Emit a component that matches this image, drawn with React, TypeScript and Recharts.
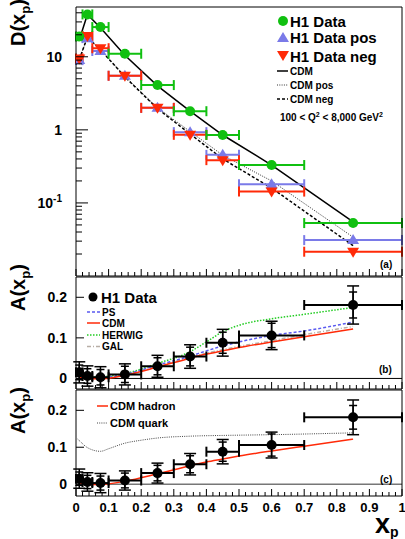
import React from "react";
import { ComposedChart, Scatter, Line, XAxis, YAxis, ErrorBar, ReferenceLine } from "recharts";

// bin centres and half-widths in x_p
const XP = [0.01, 0.035, 0.075, 0.15, 0.25, 0.35, 0.45, 0.6, 0.85];
const XERR = [0.01, 0.015, 0.025, 0.05, 0.05, 0.05, 0.05, 0.1, 0.15];

// panel (a): D(x_p)
const D_ALL = [19, 38, 25.5, 11, 4.1, 1.8, 0.85, 0.33, 0.053];
const D_POS = [9.0, 18, 12, 5.5, 2.0, 0.93, 0.455, 0.18, 0.031];
const D_NEG = [9.5, 19.3, 13.1, 5.5, 2.0, 0.855, 0.385, 0.143, 0.0215];

const CDM_X = [0.01, 0.035, 0.075, 0.15, 0.25, 0.35, 0.45, 0.6, 0.85];
const CDM_ALL = [17, 38, 25, 10.5, 4.0, 1.8, 0.85, 0.33, 0.055];
const CDM_POS = [9.2, 18.5, 12.5, 5.4, 2.0, 0.95, 0.45, 0.2, 0.034];
const CDM_NEG = [9.2, 18.5, 12.5, 5.3, 1.95, 0.88, 0.4, 0.16, 0.026];

// panels (b), (c): A(x_p)
const A_VAL = [0.015, 0.006, 0.003, 0.01, 0.03, 0.054, 0.088, 0.106, 0.181];
const A_TOT = [0.026, 0.025, 0.026, 0.026, 0.027, 0.029, 0.033, 0.035, 0.047];
const A_STAT = [0.018, 0.018, 0.019, 0.02, 0.021, 0.023, 0.026, 0.03, 0.032];

const MC_X = [0.01, 0.035, 0.075, 0.15, 0.25, 0.35, 0.4, 0.45, 0.5, 0.6, 0.7, 0.85];
const MC_CDM = [0.003, 0.0, -0.001, 0.008, 0.028, 0.05, 0.06, 0.068, 0.076, 0.09, 0.103, 0.122];
const MC_PS = [0.004, 0.002, 0.002, 0.01, 0.033, 0.055, 0.068, 0.08, 0.09, 0.106, 0.117, 0.139];
const MC_HERWIG = [0.005, 0.003, 0.004, 0.012, 0.037, 0.066, 0.09, 0.115, 0.131, 0.147, 0.158, 0.175];
const MC_GAL = [0.004, 0.001, 0.0, 0.009, 0.03, 0.052, 0.062, 0.071, 0.079, 0.093, 0.108, 0.128];

const QK_X = [0.005, 0.01, 0.035, 0.075, 0.1, 0.15, 0.2, 0.25, 0.35, 0.45, 0.6, 0.85];
const QK_Y = [0.122, 0.118, 0.099, 0.089, 0.096, 0.111, 0.119, 0.125, 0.13, 0.132, 0.134, 0.139];

const FONT = '"Liberation Sans", Arial, Helvetica, sans-serif';
const GREEN = "#10c010";
const BLUE = "#7a7ae8";
const RED = "#ff2a08";

const W = 405;
const X_TICKS = Array.from({ length: 51 }, (_, i) => Number((i * 0.02).toFixed(2)));
const LOG_TICKS = [0.01, 0.1, 1, 10]
  .flatMap((d) => [1, 2, 3, 4, 5, 6, 7, 8, 9].map((k) => Number((k * d).toPrecision(3))))
  .filter((v) => v > 0.01 && v < 48);

const rows = (ys: number[], xs: number[] = XP) => xs.map((x, i) => ({ x, y: ys[i] }));
const pts = (ys: number[]) => XP.map((x, i) => ({ x, y: ys[i], ex: XERR[i] }));
const aPts = XP.map((x, i) => ({ x, y: A_VAL[i], ex: XERR[i], et: A_TOT[i], es: A_STAT[i] }));

const isMajorX = (v: number) => Math.abs(v * 10 - Math.round(v * 10)) < 1e-6;

const XTickBottom = ({ x, y, payload, labels }: any) => {
  const major = isMajorX(payload.value);
  const v = payload.value;
  const txt = v === 0 ? "0" : v === 1 ? "1" : v.toFixed(1);
  return (
    <g>
      <line x1={x} x2={x} y1={y} y2={y - (major ? 7 : 4)} stroke="#000" />
      {labels && major && (
        <text x={x} y={y + 11} textAnchor="middle" dominantBaseline="central" fontSize={13} fontWeight="bold" fontFamily={FONT} fill="#000">
          {txt}
        </text>
      )}
    </g>
  );
};

const XTickTop = ({ x, y, payload }: any) => {
  const major = isMajorX(payload.value);
  return <line x1={x} x2={x} y1={y} y2={y + (major ? 7 : 4)} stroke="#000" />;
};

const LogTick = ({ x, y, payload }: any) => {
  const v = payload.value;
  const lg = Math.log10(v);
  const major = Math.abs(lg - Math.round(lg)) < 1e-6;
  return (
    <g>
      <line x1={x} x2={x + (major ? 12 : 6)} y1={y} y2={y} stroke="#000" />
      {major && (
        <text x={x - 14} y={y + 5} textAnchor="end" fontSize={14} fontWeight="bold" fontFamily={FONT} fill="#000">
          {v === 0.1 ? (
            <>
              10<tspan dy={-6} fontSize={10}>-1</tspan>
            </>
          ) : (
            String(v)
          )}
        </text>
      )}
    </g>
  );
};

const LinTick = ({ x, y, payload }: any) => (
  <g>
    <line x1={x} x2={x + 8} y1={y} y2={y} stroke="#000" />
    <text x={x - 9} y={y + 5} textAnchor="end" fontSize={14} fontWeight="bold" fontFamily={FONT} fill="#000">
      {String(payload.value)}
    </text>
  </g>
);

const Dot = (c: string, r: number) => (p: any) => <circle cx={p.cx} cy={p.cy} r={r} fill={c} />;
const TriUp = (p: any) => (
  <polygon points={`${p.cx - 6},${p.cy + 4} ${p.cx + 6},${p.cy + 4} ${p.cx},${p.cy - 6}`} fill={BLUE} />
);
const TriDown = (p: any) => (
  <polygon points={`${p.cx - 6},${p.cy - 4} ${p.cx + 6},${p.cy - 4} ${p.cx},${p.cy + 6}`} fill={RED} />
);

// axes with height 1 so that recharts still draws their ticks
const Frame = ({ domain, scale, ticks, tick, labels }: any) => [
  <XAxis key="xb" dataKey="x" type="number" domain={[0, 1]} ticks={X_TICKS} interval={0} height={1} tickSize={0} tickMargin={0} tickLine={false} axisLine={{ stroke: "#000" }} tick={<XTickBottom labels={labels} />} allowDataOverflow />,
  <XAxis key="xt" xAxisId="t" orientation="top" type="number" domain={[0, 1]} ticks={X_TICKS} interval={0} height={1} tickSize={0} tickMargin={0} tickLine={false} axisLine={{ stroke: "#000" }} tick={<XTickTop />} />,
  <YAxis key="yl" type="number" scale={scale} domain={domain} ticks={ticks} interval={0} width={76} tickSize={0} tickMargin={0} tickLine={false} axisLine={{ stroke: "#000" }} tick={tick} allowDataOverflow />,
  <YAxis key="yr" yAxisId="r" orientation="right" type="number" domain={[0, 1]} width={3} tick={false} tickLine={false} axisLine={{ stroke: "#000" }} />,
];

const ABars = () => [
  <ErrorBar key="t" dataKey="et" direction="y" width={6} stroke="#000" strokeWidth={1.5} />,
  <ErrorBar key="s" dataKey="es" direction="y" width={4} stroke="#000" strokeWidth={1.5} />,
  <ErrorBar key="x" dataKey="ex" direction="x" width={5} stroke="#000" strokeWidth={2} />,
];

export default function App() {
  return (
    <div style={{ position: "absolute", left: 0, top: 0, width: W, height: 539, background: "#fff", fontFamily: FONT }}>
      {/* (a) */}
      <div style={{ position: "absolute", left: 0, top: 0 }}>
        <ComposedChart width={W} height={277} margin={{ top: 6, right: 0, bottom: 0, left: 0 }}>
          {Frame({ domain: [0.01, 48], scale: "log", ticks: LOG_TICKS, tick: <LogTick /> })}
          <Line data={rows(CDM_ALL, CDM_X)} dataKey="y" type="linear" stroke="#000" strokeWidth={1.5} dot={false} isAnimationActive={false} />
          <Line data={rows(CDM_POS, CDM_X)} dataKey="y" type="linear" stroke="#333" strokeWidth={1} strokeDasharray="1 1.3" dot={false} isAnimationActive={false} />
          <Line data={rows(CDM_NEG, CDM_X)} dataKey="y" type="linear" stroke="#000" strokeWidth={1.5} strokeDasharray="3 2" dot={false} isAnimationActive={false} />
          <Scatter data={pts(D_POS)} dataKey="y" shape={TriUp} isAnimationActive={false}>
            <ErrorBar dataKey="ex" direction="x" width={5} stroke={BLUE} strokeWidth={2} />
          </Scatter>
          <Scatter data={pts(D_NEG)} dataKey="y" shape={TriDown} isAnimationActive={false}>
            <ErrorBar dataKey="ex" direction="x" width={5} stroke={RED} strokeWidth={2} />
          </Scatter>
          <Scatter data={pts(D_ALL)} dataKey="y" shape={Dot(GREEN, 5)} isAnimationActive={false}>
            <ErrorBar dataKey="ex" direction="x" width={5} stroke={GREEN} strokeWidth={2} />
          </Scatter>
        </ComposedChart>
      </div>

      {/* (b) */}
      <div style={{ position: "absolute", left: 0, top: 276 }}>
        <ComposedChart width={W} height={114} margin={{ top: 0, right: 0, bottom: 0, left: 0 }}>
          {Frame({ domain: [-0.026, 0.25], scale: "linear", ticks: [0, 0.1, 0.2], tick: <LinTick /> })}
          <ReferenceLine y={0} stroke="#000" strokeWidth={1} />
          <Line data={rows(MC_GAL, MC_X)} dataKey="y" type="monotone" stroke="#b8aea6" strokeWidth={1.5} strokeDasharray="4 2 1 2" dot={false} isAnimationActive={false} />
          <Line data={rows(MC_HERWIG, MC_X)} dataKey="y" type="monotone" stroke="#22cc22" strokeWidth={1.5} strokeDasharray="1.5 1.5" dot={false} isAnimationActive={false} />
          <Line data={rows(MC_PS, MC_X)} dataKey="y" type="monotone" stroke="#5a5af0" strokeWidth={1.5} strokeDasharray="3 2" dot={false} isAnimationActive={false} />
          <Line data={rows(MC_CDM, MC_X)} dataKey="y" type="monotone" stroke={RED} strokeWidth={1.5} dot={false} isAnimationActive={false} />
          <Scatter data={aPts} dataKey="y" shape={Dot("#000", 5)} isAnimationActive={false}>
            {ABars()}
          </Scatter>
        </ComposedChart>
      </div>

      {/* (c) */}
      <div style={{ position: "absolute", left: 0, top: 389 }}>
        <ComposedChart width={W} height={150} margin={{ top: 0, right: 0, bottom: 42, left: 0 }}>
          {Frame({ domain: [-0.032, 0.255], scale: "linear", ticks: [0, 0.1, 0.2], tick: <LinTick />, labels: true })}
          <ReferenceLine y={0} stroke="#777" strokeWidth={1.5} />
          <Line data={rows(QK_Y, QK_X)} dataKey="y" type="monotone" stroke="#444" strokeWidth={1} strokeDasharray="1 1.2" dot={false} isAnimationActive={false} />
          <Line data={rows(MC_CDM, MC_X)} dataKey="y" type="monotone" stroke={RED} strokeWidth={1.5} dot={false} isAnimationActive={false} />
          <Scatter data={aPts} dataKey="y" shape={Dot("#000", 5)} isAnimationActive={false}>
            {ABars()}
          </Scatter>
        </ComposedChart>
      </div>

      {/* labels and legends */}
      <svg width={W} height={539} style={{ position: "absolute", left: 0, top: 0, pointerEvents: "none" }} fontFamily={FONT} fontWeight="bold">
        <text transform="translate(25,46) rotate(-90)" fontSize={20}>
          D(x<tspan dy={5} fontSize={13}>p</tspan><tspan dy={-5}>)</tspan>
        </text>
        <text transform="translate(25,311) rotate(-90)" fontSize={20}>
          A(x<tspan dy={5} fontSize={13}>p</tspan><tspan dy={-5}>)</tspan>
        </text>
        <text transform="translate(25,434) rotate(-90)" fontSize={20}>
          A(x<tspan dy={5} fontSize={13}>p</tspan><tspan dy={-5}>)</tspan>
        </text>
        <text x={375} y={533} fontSize={27}>
          x<tspan dy={4} fontSize={14}>p</tspan>
        </text>

        <circle cx={283} cy={21} r={5} fill={GREEN} />
        <text x={290} y={26.5} fontSize={15}>H1 Data</text>
        <polygon points="277,42 289,42 283,32" fill={BLUE} />
        <text x={290} y={42.5} fontSize={15}>H1 Data pos</text>
        <polygon points="277,51 289,51 283,61" fill={RED} />
        <text x={290} y={61.5} fontSize={15}>H1 Data neg</text>
        <line x1={277} x2={288} y1={71} y2={71} stroke="#000" strokeWidth={1.5} />
        <text x={290} y={74.5} fontSize={10}>CDM</text>
        <line x1={277} x2={288} y1={85} y2={85} stroke="#333" strokeWidth={1} strokeDasharray="1 1.3" />
        <text x={290} y={88.5} fontSize={10}>CDM pos</text>
        <line x1={277} x2={288} y1={99} y2={99} stroke="#000" strokeWidth={1.5} strokeDasharray="3 2" />
        <text x={290} y={102.5} fontSize={10}>CDM neg</text>
        <text x={280} y={121} fontSize={10}>
          100 &lt; Q<tspan dy={-4} fontSize={7}>2</tspan><tspan dy={4}> &lt; 8,000 GeV</tspan><tspan dy={-4} fontSize={7}>2</tspan>
        </text>
        <text x={380} y={268} fontSize={10}>(a)</text>

        <circle cx={93} cy={297} r={4.5} fill="#000" />
        <text x={101} y={302.5} fontSize={15}>H1 Data</text>
        <line x1={87} x2={100} y1={312} y2={312} stroke="#5a5af0" strokeWidth={1.5} strokeDasharray="3 2" />
        <text x={102} y={315.5} fontSize={10}>PS</text>
        <line x1={87} x2={100} y1={323} y2={323} stroke={RED} strokeWidth={1.5} />
        <text x={102} y={326.5} fontSize={10}>CDM</text>
        <line x1={87} x2={100} y1={335} y2={335} stroke="#22cc22" strokeWidth={1.5} strokeDasharray="1.5 1.5" />
        <text x={102} y={338.5} fontSize={10}>HERWIG</text>
        <line x1={87} x2={100} y1={346.5} y2={346.5} stroke="#b8aea6" strokeWidth={1.5} strokeDasharray="4 2 1 2" />
        <text x={102} y={350} fontSize={10}>GAL</text>
        <text x={379} y={373} fontSize={10}>(b)</text>

        <line x1={97} x2={108} y1={406} y2={406} stroke={RED} strokeWidth={1.5} />
        <text x={110} y={410} fontSize={11}>CDM hadron</text>
        <line x1={97} x2={108} y1={423} y2={423} stroke="#444" strokeWidth={1} strokeDasharray="1 1.2" />
        <text x={110} y={427} fontSize={11}>CDM quark</text>
        <text x={380} y={483} fontSize={10}>(c)</text>
      </svg>
    </div>
  );
}
